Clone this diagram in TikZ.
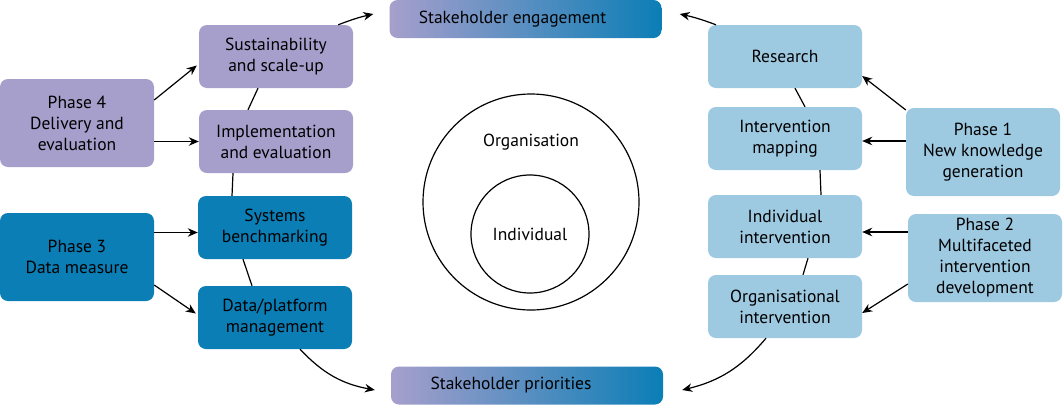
\documentclass[tikz,border=0pt]{standalone}
\usepackage{fontspec}
\setmainfont{PT Sans}
\usetikzlibrary{arrows.meta}
\definecolor{phasepurple}{HTML}{A69FCC}
\definecolor{phasedark}{HTML}{0B7EB6}
\definecolor{phaselight}{HTML}{9DC9E1}
\begin{document}
\begin{tikzpicture}[x=1pt,y=1pt]
            \tikzstyle{base box}=[rectangle,rounded corners=8pt,align=center,inner sep=0pt,font=\fontsize{17.5}{21}\selectfont]
            \tikzstyle{phase box}=[base box,minimum width=154pt,minimum height=88pt]
            \tikzstyle{task box}=[base box,minimum width=154pt,minimum height=63pt]
            \tikzstyle{goal box}=[base box,minimum width=272pt,minimum height=38pt,left color=phasepurple,right color=phasedark]
            \tikzstyle{goal text}=[font=\fontsize{17.5}{21}\selectfont]
            \tikzstyle{link arrow}=[-{Stealth[length=10pt,width=8.5pt]},line width=1.2pt]
            \tikzstyle{loop line}=[line width=1.2pt]

            \useasboundingbox (0,0) rectangle (1064,-405);

            \node(eng)[goal box,label={[goal text,xshift=-13pt]center:Stakeholder engagement}] at (525.5,-19) {};
            \node(prio)[goal box,label={[goal text,xshift=-16pt]center:Stakeholder priorities}] at (527,-385.5) {};

            \node(p4)[phase box,fill=phasepurple] at (77,-123) {Phase 4\\Delivery and\\evaluation};
            \node(sus)[task box,fill=phasepurple] at (276,-56.5) {Sustainability\\and scale-up};
            \node(impl)[task box,fill=phasepurple] at (276,-141.5) {Implementation\\and evaluation};
            \node(p3)[phase box,fill=phasedark] at (77,-257) {Phase 3\\Data measure};
            \node(sys)[task box,fill=phasedark] at (275,-227.5) {Systems\\benchmarking};
            \node(data)[task box,fill=phasedark] at (275,-317.5) {Data/platform\\management};

            \node(p1)[phase box,fill=phaselight] at (983,-152) {Phase 1\\New knowledge\\generation};
            \node(res)[task box,fill=phaselight] at (785,-56.5) {Research};
            \node(map)[task box,fill=phaselight] at (785,-138.5) {Intervention\\mapping};
            \node(p2)[phase box,fill=phaselight] at (985,-258) {Phase 2\\Multifaceted\\intervention\\development};
            \node(ind)[task box,fill=phaselight] at (785,-226.5) {Individual\\intervention};
            \node(orgi)[task box,fill=phaselight] at (785,-306.5) {Organisational\\intervention};

            \node(outer)[circle,draw,loop line,minimum size=216pt] at (531,-202) {};
            \node(outertext)[goal text] at (531,-142) {Organisation};
            \node(inner)[circle,draw,loop line,minimum size=118pt,goal text] at (530,-234) {Individual};

            \draw[link arrow] (sus.27) to[bend left=4] ([shift={(-16,5)}]eng.west);
            \draw[loop line] ([xshift=-18]sus.south) -- ([xshift=-28]impl.north);
            \draw[loop line] ([xshift=-43]impl.south) -- ([xshift=-43]sys.north);
            \draw[loop line] ([xshift=-32]sys.south) -- ([xshift=-23]data.north);
            \draw[link arrow] ([xshift=25]data.south) to[bend right=18] ([shift={(-16,-4.5)}]prio.west);

            \draw[link arrow] ([xshift=-69]res.north) to[bend right=4] ([shift={(18,5)}]eng.east);
            \draw[loop line] ([xshift=10]res.south) -- ([xshift=20]map.north);
            \draw[loop line] ([xshift=35]map.south) -- ([xshift=36]ind.north);
            \draw[loop line] ([xshift=23]ind.south) -- ([xshift=18]orgi.north);
            \draw[link arrow] ([xshift=-19]orgi.south) to[bend left=18] ([shift={(19,-4.5)}]prio.east);

            \draw[link arrow] ([yshift=23]p4.east) -- ([shift={(-2,-9)}]sus.west);
            \draw[link arrow] (impl.west -| p4.east) -- (impl.west);
            \draw[link arrow] ([yshift=-5]sys.west -| p3.east) -- ([yshift=-5]sys.west);
            \draw[link arrow] ([yshift=-28]p3.east) -- ([shift={(-2,4)}]data.west);

            \draw[link arrow] ([yshift=42]p1.west) -- ([yshift=-19.5]res.east);
            \draw[link arrow] ([yshift=-2.5]map.east -| p1.west) -- ([yshift=-2.5]map.east);
            \draw[link arrow] ([yshift=-5.5]ind.east -| p2.west) -- ([yshift=-5.5]ind.east);
            \draw[link arrow] ([yshift=-26]p2.west) -- ([yshift=-6.5]orgi.east);
        \end{tikzpicture}
\end{document}
